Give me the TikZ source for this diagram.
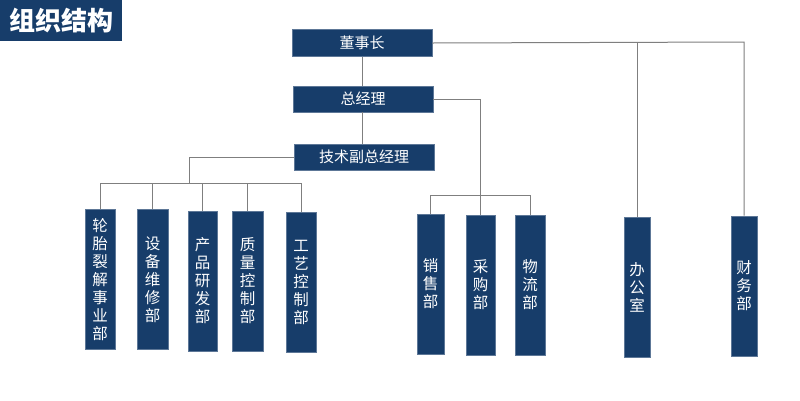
\documentclass[tikz,border=0pt]{standalone}
\usepackage{fontspec}
\newfontfamily\cjk{Noto Sans CJK SC}
\definecolor{boxblue}{HTML}{173D6A}
\definecolor{linegray}{HTML}{7F7F7F}
\begin{document}
\begin{tikzpicture}[x=1pt,y=-1pt,
  hbox/.style={fill=boxblue,draw=boxblue!70!white,line width=0.6pt,text=white,font=\cjk\fontsize{15}{18}\selectfont,minimum width=140pt,minimum height=26pt,inner sep=0pt},
  vbox/.style={fill=boxblue,draw=boxblue!70!white,line width=0.6pt,text=white,font=\cjk\fontsize{15.5}{18}\selectfont,align=center,minimum height=140pt,inner sep=0pt},
  conn/.style={draw=linegray,line width=1pt}]
\useasboundingbox (0,0) rectangle (800,400);
\fill[white] (0,0) rectangle (800,400);
% title
\node[fill=boxblue,text=white,font=\cjk\bfseries\fontsize{26}{30}\selectfont,minimum width=122pt,minimum height=41pt,inner sep=0pt,anchor=north west] (title) at (0,0) {组织结构};
% top boxes
\node[hbox,minimum height=27pt] (ceo) at (362,43) {董事长};
\node[hbox] (gm) at (363,99) {总经理};
\node[hbox] (tech) at (364,157) {技术副总经理};
% leaves
\node[vbox,minimum width=30pt] (a1) at (100,279.5) {轮\\胎\\裂\\解\\事\\业\\部};
\node[vbox,minimum width=31pt] (a2) at (152.5,279.5) {设\\备\\维\\修\\部};
\node[vbox,minimum width=29pt] (a3) at (202.5,281) {产\\品\\研\\发\\部};
\node[vbox,minimum width=31pt] (a4) at (247.5,281) {质\\量\\控\\制\\部};
\node[vbox,minimum width=30pt] (a5) at (301,282) {工\\艺\\控\\制\\部};
\node[vbox,minimum width=27pt] (b1) at (430.5,284) {销\\售\\部};
\node[vbox,minimum width=29pt] (b2) at (480.5,285) {采\\购\\部};
\node[vbox,minimum width=30pt] (b3) at (530,285) {物\\流\\部};
\node[vbox,minimum width=26pt] (c1) at (637,287) {办\\公\\室};
\node[vbox,minimum width=26pt] (c2) at (744,286) {财\\务\\部};
% coordinates
\coordinate (busA) at (189,183);
\coordinate (busB) at (480,195);
\coordinate (topR) at (744,42);
% connectors
\draw[conn] (ceo.south) -- (ceo.south |- gm.north);
\draw[conn] (gm.south -| ceo.south) -- (tech.north -| ceo.south);
\draw[conn] (tech.west) -| (busA);
\draw[conn] (a1.north |- busA) -- (a5.north |- busA);
\foreach \n in {a1,a2,a3,a4,a5} \draw[conn] (\n.north |- busA) -- (\n.north);
\draw[conn] (gm.east) -| (busB);
\draw[conn] (b1.north |- busB) -- (b3.north |- busB);
\foreach \n in {b1,b2,b3} \draw[conn] (\n.north |- busB) -- (\n.north);
\draw[conn] (ceo.east) -- (topR) -- (c2.north);
\draw[conn] (c1.north |- topR) -- (c1.north);
\end{tikzpicture}
\end{document}
